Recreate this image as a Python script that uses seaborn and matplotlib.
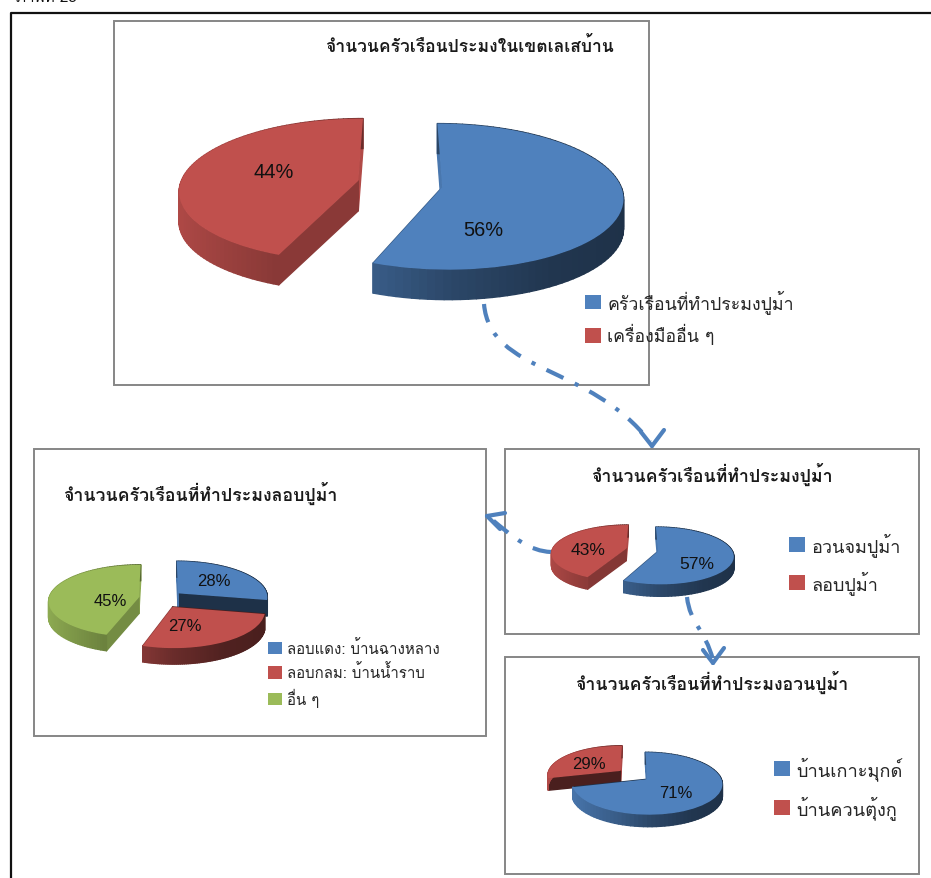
"""Four linked 3D-looking pie charts of crab fishing households."""

from __future__ import annotations

import matplotlib

matplotlib.use("Agg")

import matplotlib.pyplot as plt
import numpy as np
import seaborn as sns
from matplotlib.collections import PolyCollection
from matplotlib.patches import FancyArrowPatch, PathPatch, Rectangle
from matplotlib.path import Path
from matplotlib.transforms import Transform

WIDTH, HEIGHT = 931, 879

TOP_TITLE = "จำนวนครัวเรือนประมงในเขตเลเสบ้าน"
TOP_LABELS = ["ครัวเรือนที่ทำประมงปูม้า", "เครื่องมืออื่น ๆ"]
TOP_VALUES = [56, 44]

GEAR_TITLE = "จำนวนครัวเรือนที่ทำประมงปูม้า"
GEAR_LABELS = ["อวนจมปูม้า", "ลอบปูม้า"]
GEAR_VALUES = [57, 43]

TRAP_TITLE = "จำนวนครัวเรือนที่ทำประมงลอบปูม้า"
TRAP_LABELS = ["ลอบแดง: บ้านฉางหลาง", "ลอบกลม: บ้านน้ำราบ", "อื่น ๆ"]
TRAP_VALUES = [28, 27, 45]

NET_TITLE = "จำนวนครัวเรือนที่ทำประมงอวนปูม้า"
NET_LABELS = ["บ้านเกาะมุกด์", "บ้านควนตุ้งกู"]
NET_VALUES = [71, 29]

THAI_FONT = ["Loma", "DejaVu Sans"]
PCT_FONT = ["Liberation Sans", "DejaVu Sans"]
BOX_COLOR = "#868686"
ARROW_COLOR = "#4f81bd"


class Perspective(Transform):
    """Makes the near side of a flat pie look bigger than the far side."""

    input_dims = output_dims = 2
    is_affine = False

    def __init__(self, tilt: float):
        super().__init__()
        self.tilt = tilt

    def transform_non_affine(self, values):
        values = np.asarray(values, dtype=float)
        return values / (1 + self.tilt * values[:, 1:2])


def shade(rgb, factor):
    return tuple(np.clip(np.array(rgb) * factor, 0, 1))


def side_walls(ax, wedge, persp, depth, zorder):
    """Draw the rim and the two cut faces below a pie wedge."""
    rgb = wedge.get_facecolor()[:3]
    angles = np.radians(np.linspace(wedge.theta1, wedge.theta2, 90))
    cx, cy = wedge.center
    rim = np.column_stack([cx + np.cos(angles), cy + np.sin(angles)])
    rim = persp.transform_non_affine(rim)
    drop = np.array([0, depth])

    polys, colors = [], []
    apex = persp.transform_non_affine(np.array([[cx, cy]]))[0]
    for end, angle in ((rim[0], angles[0]), (rim[-1], angles[-1])):
        polys.append([apex, end, end - drop, apex - drop])
        colors.append(shade(rgb, 0.92 - 0.55 * abs(np.cos(angle))))
    for i in range(len(rim) - 1):
        polys.append([rim[i], rim[i + 1], rim[i + 1] - drop, rim[i] - drop])
        colors.append(shade(rgb, np.interp(np.cos(angles[i]), [-1, -0.35, 0, 0.5, 1],
                                           [0.92, 0.7, 0.55, 0.42, 0.38])))
    walls = PolyCollection(polys, facecolors=colors, edgecolors=colors, linewidths=1.0,
                           zorder=zorder, clip_on=False)
    ax.add_collection(walls)


def draw_pie(fig, overlay, values, colors, center, rx, ry, tilt, depth, explode,
             label_xy, pct_size):
    """One pie in its own axes, centre and radii are in image pixels."""
    span = 1.6
    left = (center[0] - span * rx) / WIDTH
    bottom = 1 - (center[1] + span * ry) / HEIGHT
    ax = fig.add_axes([left, bottom, 2 * span * rx / WIDTH, 2 * span * ry / HEIGHT], zorder=2)
    wedges, _, pcts = ax.pie(
        values, colors=colors, explode=[explode] * len(values), startangle=90,
        counterclock=False, autopct="%.0f%%", wedgeprops={"linewidth": 0},
    )
    ax.set_aspect("auto")
    ax.set_xlim(-span, span)
    ax.set_ylim(-span, span)

    persp = Perspective(tilt)
    order = sorted(range(len(wedges)), key=lambda i: -wedges[i].center[1])
    for rank, i in enumerate(order):
        side_walls(ax, wedges[i], persp, depth / ry, 3 + 2 * rank)
        wedges[i].set_transform(persp + ax.transData)
        wedges[i].set_zorder(4 + 2 * rank)
        wedges[i].set_clip_on(False)
    for text, xy in zip(pcts, label_xy):
        text.set_transform(overlay.transData)
        text.set_position(xy)
        text.set(family=PCT_FONT, fontsize=pct_size, color="#111111", zorder=20, clip_on=False)
    return ax, wedges


def add_legend(ax, wedges, labels, anchor, size, spacing):
    ax.legend(
        wedges, labels, loc="upper left", bbox_to_anchor=(anchor[0] / WIDTH, 1 - anchor[1] / HEIGHT),
        bbox_transform=ax.figure.transFigure, frameon=False, prop={"family": THAI_FONT, "size": size},
        labelspacing=spacing, handlelength=0.9, handleheight=0.9, handletextpad=0.35,
        borderpad=0, borderaxespad=0,
    )


def add_link(ax, verts, tip, arm_a, arm_b):
    """Dash-dot curve that ends in an open chevron."""
    codes = [Path.MOVETO] + [Path.CURVE4] * 3
    ax.add_patch(PathPatch(Path(verts, codes), fill=False, edgecolor=ARROW_COLOR, linewidth=3,
                           linestyle=(0, (4.5, 3, 1, 3)), capstyle="butt", zorder=5))
    for arm in (arm_a, arm_b):
        ax.add_patch(FancyArrowPatch(arm, tip, arrowstyle="-", color=ARROW_COLOR, linewidth=3,
                                     shrinkA=0, shrinkB=0, zorder=5))


sns.set_theme(style="white")
plt.rcParams["font.family"] = THAI_FONT
palette = sns.color_palette(["#4f81bd", "#c0504d", "#9bbb59"])

fig = plt.figure(figsize=(WIDTH / 100, HEIGHT / 100), dpi=100)
overlay = fig.add_axes([0, 0, 1, 1], zorder=1)
overlay.set_xlim(0, WIDTH)
overlay.set_ylim(HEIGHT, 0)
overlay.axis("off")

# outer page frame and the cut off caption above it
overlay.plot([931, 11, 11], [14, 14, 879], color="#111111", linewidth=1.6, zorder=1)
overlay.text(16, 2, "ภาพที่ 25", fontsize=11, color="#111111", va="baseline")

for x0, y0, x1, y1 in [(114, 22, 649, 386), (34, 450, 486, 737), (505, 450, 919, 635), (505, 658, 919, 875)]:
    overlay.add_patch(Rectangle((x0, y0), x1 - x0, y1 - y0, facecolor="white", edgecolor=BOX_COLOR,
                                linewidth=1.4, zorder=2))

title_style = {"ha": "center", "va": "center", "color": "#1a1a1a", "zorder": 6, "fontweight": "bold"}
overlay.text(469, 46, TOP_TITLE, fontsize=12.6, **title_style)
overlay.text(200, 493.5, TRAP_TITLE, fontsize=12.8, **title_style)
overlay.text(712, 474.5, GEAR_TITLE, fontsize=12.8, **title_style)
overlay.text(712, 682.5, NET_TITLE, fontsize=12.7, **title_style)

ax, wedges = draw_pie(fig, overlay, TOP_VALUES, palette[:2], (400, 185), 178, 71, 0.128, 30, 0.24,
                      [(483, 231), (274, 172)], 14.4)
add_legend(ax, wedges, TOP_LABELS, (585, 290), 12.8, 0.63)

ax, wedges = draw_pie(fig, overlay, GEAR_VALUES, palette[:2], (642, 551), 74, 27.6, 0.15, 12, 0.22,
                      [(697, 565), (588, 551)], 12.6)
add_legend(ax, wedges, GEAR_LABELS, (789, 533), 13, 0.78)

ax, wedges = draw_pie(fig, overlay, TRAP_VALUES, palette[:3], (161, 600), 90, 36, 0.09, 16, 0.25,
                      [(214, 582), (185, 627), (110, 602)], 12)
add_legend(ax, wedges, TRAP_LABELS, (268, 640), 10.8, 0.5)

ax, wedges = draw_pie(fig, overlay, NET_VALUES, palette[:2], (633.5, 776), 73, 29.5, 0.133, 12, 0.23,
                      [(676, 794), (589, 765)], 12)
add_legend(ax, wedges, NET_LABELS, (774, 757), 13.1, 0.83)

add_link(overlay, [(484, 305), (490, 375), (590, 365), (650, 443)], (652, 447), (641, 433), (664, 431))
add_link(overlay, [(551, 553), (530, 552), (515, 540), (489, 518)], (487, 517), (505, 514), (500, 530))
add_link(overlay, [(687, 598), (690, 625), (705, 630), (713, 661)], (713, 664), (703, 651), (724, 649))

fig.savefig("out.png", dpi=100)
